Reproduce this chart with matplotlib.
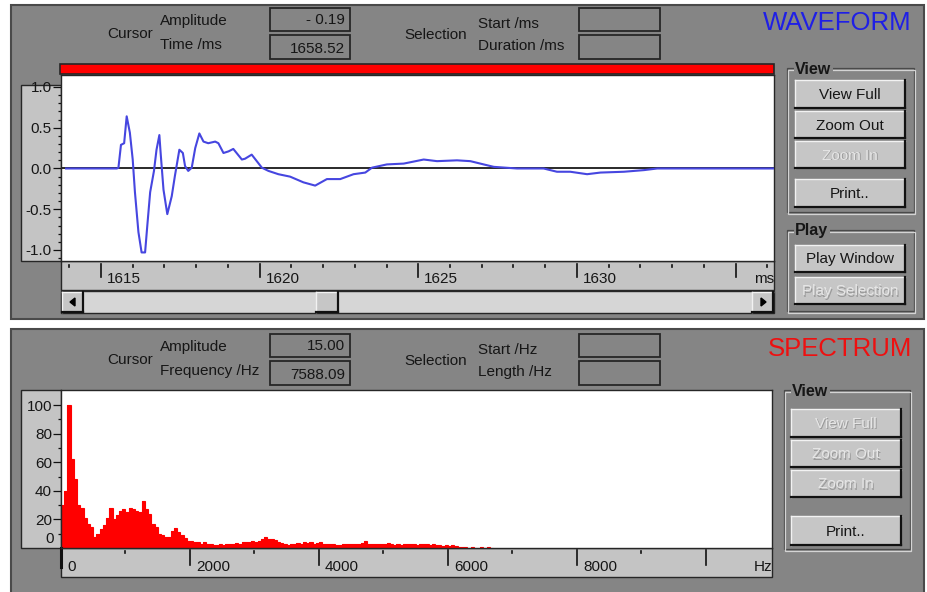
import matplotlib
matplotlib.use("Agg")
import matplotlib.pyplot as plt
import numpy as np
from matplotlib.patches import Rectangle, Polygon
from matplotlib.ticker import FixedLocator

plt.rcParams["font.family"] = ["Liberation Sans", "DejaVu Sans"]
plt.rcParams["axes.unicode_minus"] = False

W, H = 927, 592

# ---- waveform (time in ms, amplitude) ----
wave_t = [1613.9, 1615.50, 1615.55, 1615.63, 1615.73, 1615.81, 1615.86, 1615.91, 1616.00,
          1616.07, 1616.18, 1616.28, 1616.39, 1616.46, 1616.55, 1616.67, 1616.75, 1616.84,
          1616.88, 1616.97, 1617.09, 1617.23, 1617.33, 1617.47, 1617.58, 1617.65, 1617.75,
          1617.86, 1617.97, 1618.10, 1618.23, 1618.38, 1618.60, 1618.70, 1618.86, 1619.02,
          1619.17, 1619.44, 1619.54, 1619.75, 1619.91, 1620.07, 1620.28, 1620.59, 1620.96,
          1621.38, 1621.75, 1622.12, 1622.54, 1622.96, 1623.33, 1623.54, 1624.01, 1624.54,
          1625.17, 1625.59, 1626.22, 1626.64, 1627.06, 1627.38, 1628.11, 1628.95, 1629.37,
          1629.79, 1630.32, 1630.74, 1631.48, 1632.11, 1632.53, 1636.2]
wave_v = [0.0, 0.0, 0.01, 0.29, 0.31, 0.64, 0.54, 0.44, 0.11,
          -0.29, -0.78, -1.03, -1.03, -0.70, -0.29, -0.03, 0.23, 0.41,
          0.19, -0.26, -0.56, -0.34, -0.09, 0.23, 0.19, 0.03, -0.03,
          0.01, 0.25, 0.43, 0.33, 0.31, 0.33, 0.31, 0.19, 0.21,
          0.24, 0.11, 0.12, 0.17, 0.09, 0.01, -0.03, -0.07, -0.10,
          -0.17, -0.21, -0.13, -0.13, -0.07, -0.05, 0.01, 0.05, 0.06,
          0.11, 0.09, 0.10, 0.09, 0.05, 0.02, 0.0, 0.0, -0.04,
          -0.04, -0.07, -0.05, -0.04, -0.02, 0.0, 0.0]

wave_major = [1615, 1620, 1625, 1630, 1635]
wave_labels = ["1615", "1620", "1625", "1630", ""]
wave_minor = [1614, 1616, 1617, 1618, 1619, 1621, 1622, 1623, 1624, 1626, 1627, 1628,
              1629, 1631, 1632, 1633, 1634, 1636]
wave_yticks = [-1.0, -0.5, 0.0, 0.5, 1.0]

# ---- spectrum: amplitude per 50 Hz bin, starting at 0 Hz ----
spec_bin_hz = 50
spec_amp = [30, 40, 100, 62, 48, 30, 28, 21, 17, 15,
            8, 10, 13, 16, 21, 28, 20, 23, 26, 27,
            25, 28, 27, 26, 25, 33, 27, 24, 17, 15,
            10, 9, 8, 8, 12, 14, 11, 9, 7, 5,
            5, 4, 4.5, 3, 4.5, 2.5, 2.5, 2, 2, 2.5,
            2, 3, 2.5, 3, 3.5, 3, 4, 4.5, 4, 5,
            4.5, 5, 6, 8, 6, 6, 5.5, 4, 3.5, 3,
            2, 2.5, 3, 3.5, 3, 4.5, 3.5, 4, 3, 3.5,
            4.5, 3, 2.5, 3, 2.5, 2, 2, 2.5, 3, 2.5,
            3, 2.5, 3, 3.5, 5, 3, 2.5, 3, 2.5, 3,
            2.5, 3.3, 2.5, 2, 2.5, 2, 2.5, 3, 2.5, 2.5,
            2, 3, 3, 2.5, 2, 2.5, 2, 2, 1.5, 2,
            1.5, 2, 1.5, 1, 0.5, 1, 0.3, 1, 0.3, 0,
            1, 0.3, 1, 0]
spec_major = [0, 2000, 4000, 6000, 8000, 10000]
spec_labels = ["0", "2000", "4000", "6000", "8000", ""]
spec_minor = [1000, 3000, 5000, 7000, 9000]
spec_yticks = [20, 40, 60, 80, 100]
spec_yminor = [10, 30, 50, 70, 90]

PANEL = "#858585"
LIGHT = "#c4c4c4"
DARK = "#262626"
TXT = "#161616"
FS = 11


def fig_rect(x0, y0, x1, y1):
    return [x0 / W, 1 - y1 / H, (x1 - x0) / W, (y1 - y0) / H]


def box(bg, x0, y0, x1, y1, fc, ec=DARK, lw=1.0, z=1):
    bg.add_patch(Rectangle((x0, y0), x1 - x0, y1 - y0, facecolor=fc, edgecolor=ec, linewidth=lw, zorder=z))


def button(bg, x0, y0, x1, y1, label, enabled=True):
    box(bg, x0, y0, x1, y1, "#c6c6c6", ec="none", z=2)
    bg.plot([x0, x1], [y0, y0], color="#f2f2f2", lw=1.0, zorder=3)
    bg.plot([x0, x0], [y0, y1], color="#f2f2f2", lw=1.0, zorder=3)
    bg.plot([x0, x1], [y1, y1], color="#111111", lw=1.6, zorder=3)
    bg.plot([x1, x1], [y0, y1], color="#111111", lw=1.6, zorder=3)
    if enabled:
        bg.text((x0 + x1) / 2, (y0 + y1) / 2 + 1, label, ha="center", va="center", fontsize=FS, color=TXT, zorder=4)
    else:
        bg.text((x0 + x1) / 2 + 1, (y0 + y1) / 2 + 2, label, ha="center", va="center", fontsize=FS, color="#9a9a9a", zorder=4)
        bg.text((x0 + x1) / 2, (y0 + y1) / 2 + 1, label, ha="center", va="center", fontsize=FS, color="#e6e6e6", zorder=4)


def group(bg, x0, y0, x1, y1, label):
    bg.add_patch(Rectangle((x0, y0), x1 - x0, y1 - y0, fill=False, edgecolor="#4a4a4a", linewidth=0.9, zorder=1))
    bg.add_patch(Rectangle((x0 + 1.5, y0 + 1.5), x1 - x0, y1 - y0, fill=False, edgecolor="#d4d4d4", linewidth=0.9, zorder=1))
    bg.text(x0 + 8, y0 + 1, label, ha="left", va="center", fontsize=FS + 0.5, fontweight="bold", color=TXT,
            zorder=3, bbox=dict(facecolor=PANEL, edgecolor="none", pad=1.0))


def header(bg, y_top, cur_rows, cur_vals, sel_rows, title, title_color):
    bg.text(107, y_top + 30, "Cursor", ha="left", va="center", fontsize=FS, color=TXT)
    bg.text(160, y_top + 17, cur_rows[0], ha="left", va="center", fontsize=FS, color=TXT)
    bg.text(160, y_top + 41, cur_rows[1], ha="left", va="center", fontsize=FS, color=TXT)
    box(bg, 270, y_top + 4, 350, y_top + 27, PANEL, lw=1.3)
    box(bg, 270, y_top + 31, 350, y_top + 55, PANEL, lw=1.3)
    bg.text(345, y_top + 16, cur_vals[0], ha="right", va="center", fontsize=FS, color=TXT)
    bg.text(345, y_top + 45, cur_vals[1], ha="right", va="center", fontsize=FS, color=TXT)
    bg.text(404, y_top + 31, "Selection", ha="left", va="center", fontsize=FS, color=TXT)
    bg.text(478, y_top + 20, sel_rows[0], ha="left", va="center", fontsize=FS, color=TXT)
    bg.text(478, y_top + 42, sel_rows[1], ha="left", va="center", fontsize=FS, color=TXT)
    box(bg, 579, y_top + 4, 660, y_top + 27, PANEL, lw=1.3)
    box(bg, 579, y_top + 31, 660, y_top + 55, PANEL, lw=1.3)
    bg.text(912, y_top + 19, title, ha="right", va="center", fontsize=18.5, color=title_color)


def xaxis_marks(ax, majors, labels, minors, unit, h_px, tick0, tick1, lab_dy):
    tr = ax.get_xaxis_transform()
    f = 1.0 / h_px
    for xv in majors:
        ax.plot([xv, xv], [-tick0 * f, -tick1 * f], color="#111111", lw=1.2, transform=tr, clip_on=False)
    for xv in minors:
        ax.plot([xv, xv], [-(tick0 + 1) * f, -(tick0 + 3) * f], color="#111111", lw=1.2, transform=tr, clip_on=False)
    for xv, lab in zip(majors, labels):
        ax.annotate(lab, xy=(xv, 0), xycoords=tr, xytext=(6, -lab_dy), textcoords="offset pixels",
                    ha="left", va="center", fontsize=FS, color=TXT, annotation_clip=False)
    ax.annotate(unit, xy=(1, 0), xycoords="axes fraction", xytext=(0, -lab_dy), textcoords="offset pixels",
                ha="right", va="center", fontsize=FS, color=TXT, annotation_clip=False)


fig = plt.figure(figsize=(W / 100, H / 100), dpi=100)
fig.patch.set_facecolor("white")
bg = fig.add_axes([0, 0, 1, 1])
bg.set_xlim(0, W)
bg.set_ylim(H, 0)
bg.axis("off")

# panels
box(bg, 11, 5, 924, 319, PANEL, ec="#4a4a4a", lw=1.5, z=0)
box(bg, 11, 329, 924, 594, PANEL, ec="#4a4a4a", lw=1.5, z=0)

# ---------------- WAVEFORM panel ----------------
header(bg, 4, ["Amplitude", "Time /ms"], ["- 0.19", "1658.52"], ["Start /ms", "Duration /ms"],
       "WAVEFORM", "#1f1fe6")
box(bg, 60, 64, 774, 74, "#ff0000", ec=DARK, lw=1.2, z=2)
box(bg, 21, 85, 61, 261, LIGHT, z=1)
box(bg, 61, 261, 774, 290, LIGHT, z=1)
# scrollbar
box(bg, 61, 291, 774, 313, "#d6d6d6", z=1)
button(bg, 62, 292, 83, 312, "")
button(bg, 752, 292, 773, 312, "")
button(bg, 316, 292, 338, 312, "")
bg.add_patch(Polygon([[70, 302], [75, 298], [75, 306]], closed=True, color="#000000", zorder=5))
bg.add_patch(Polygon([[766, 302], [761, 298], [761, 306]], closed=True, color="#000000", zorder=5))

group(bg, 787, 68, 914, 212, "View")
button(bg, 795, 80, 905, 108, "View Full")
button(bg, 795, 111, 905, 138, "Zoom Out")
button(bg, 795, 141, 905, 168, "Zoom In", enabled=False)
button(bg, 795, 179, 905, 207, "Print..")
group(bg, 787, 230, 914, 311, "Play")
button(bg, 795, 245, 905, 272, "Play Window")
button(bg, 795, 277, 905, 304, "Play Selection", enabled=False)

ax1 = fig.add_axes(fig_rect(61, 75, 774, 261))
ax1.set_facecolor("white")
ax1.axhline(0, color="#2a2a2a", lw=1.4, zorder=2)
ax1.plot(wave_t, wave_v, color="#4646e0", lw=1.5, zorder=3)
ax1.set_xlim(1613.74, 1636.21)
ax1.set_ylim(-1.135, 1.147)
ax1.set_xticks([])
ax1.set_yticks(wave_yticks)
ax1.set_yticklabels([f"{v:.1f}" for v in wave_yticks])
ax1.yaxis.set_minor_locator(FixedLocator([-1.1, -0.9, -0.8, -0.7, -0.6, -0.4, -0.3, -0.2, -0.1,
                                          0.1, 0.2, 0.3, 0.4, 0.6, 0.7, 0.8, 0.9]))
ax1.tick_params(axis="y", which="major", length=6, width=0.9, color="#111111", pad=0.5, labelsize=FS, labelcolor=TXT)
ax1.tick_params(axis="y", which="minor", length=2.5, width=0.9, color="#111111")
for s in ax1.spines.values():
    s.set_color(DARK)
    s.set_linewidth(1.0)
xaxis_marks(ax1, wave_major, wave_labels, wave_minor, "ms", 186, 3, 16, 18)

# ---------------- SPECTRUM panel ----------------
header(bg, 330, ["Amplitude", "Frequency /Hz"], ["15.00", "7588.09"], ["Start /Hz", "Length /Hz"],
       "SPECTRUM", "#ee1010")
box(bg, 21, 390, 61, 548, LIGHT, z=1)
box(bg, 61, 548, 772, 577, LIGHT, z=1)
group(bg, 784, 390, 910, 549, "View")
button(bg, 791, 409, 901, 437, "View Full", enabled=False)
button(bg, 791, 440, 901, 467, "Zoom Out", enabled=False)
button(bg, 791, 470, 901, 497, "Zoom In", enabled=False)
button(bg, 791, 516, 901, 545, "Print..")

ax2 = fig.add_axes(fig_rect(61, 390, 772, 548))
ax2.set_facecolor("white")
edges = np.arange(len(spec_amp) + 1) * spec_bin_hz
ax2.stairs(spec_amp, edges, fill=True, color="#ff0000", linewidth=0)
ax2.stairs(spec_amp, edges, fill=False, color="#ff0000", linewidth=0.8)
ax2.set_xlim(0, 11025)
ax2.set_ylim(0, 110.5)
ax2.set_xticks([])
ax2.set_yticks(spec_yticks)
ax2.set_yticklabels([str(v) for v in spec_yticks])
ax2.yaxis.set_minor_locator(FixedLocator(spec_yminor))
ax2.tick_params(axis="y", which="major", length=6, width=0.9, color="#111111", pad=0.5, labelsize=FS, labelcolor=TXT)
ax2.tick_params(axis="y", which="minor", length=2.5, width=0.9, color="#111111")
ax2.annotate("0", xy=(0, 0), xycoords="axes fraction", xytext=(-7, 9), textcoords="offset pixels",
             ha="right", va="center", fontsize=FS, color=TXT, annotation_clip=False)
for s in ax2.spines.values():
    s.set_color(DARK)
    s.set_linewidth(1.0)
xaxis_marks(ax2, spec_major, spec_labels, spec_minor, "Hz", 158, 2, 17, 19)
ax2.plot([0, 0], [0, -19 / 158], color="#111111", lw=2.2, transform=ax2.get_xaxis_transform(), clip_on=False)

fig.savefig("out.png", dpi=100, facecolor=fig.get_facecolor())
